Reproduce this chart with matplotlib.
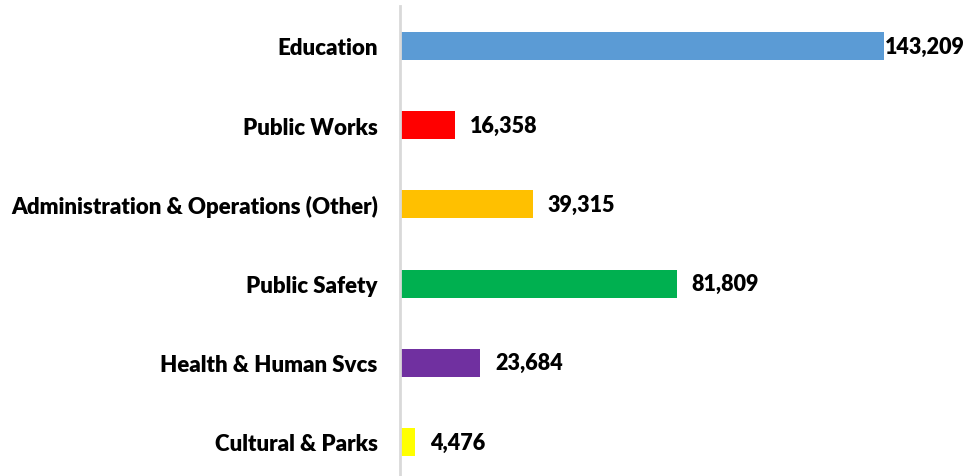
import matplotlib
matplotlib.use("Agg")
import matplotlib.pyplot as plt

categories = ["Education", "Public Works", "Administration & Operations (Other)",
              "Public Safety", "Health & Human Svcs", "Cultural & Parks"]
values = [143209, 16358, 39315, 81809, 23684, 4476]
colors = ["#5B9BD5", "#FF0000", "#FFC000", "#00B050", "#7030A0", "#FFFF00"]

plt.rcParams['font.family'] = ['Lato', 'DejaVu Sans']

W, H = 978, 477
fig = plt.figure(figsize=(W/100, H/100), dpi=100)
ax_left = 400/W
ax_top = 7.4
ax = fig.add_axes([ax_left, 0, 540.8/W, (H-ax_top)/H])

y = list(range(len(categories)))
ax.barh(y, values, height=0.355, color=colors)
ax.set_xlim(0, 160000)
ax.set_ylim(5.43, -0.5)

ax.set_yticks(y)
ax.set_yticklabels(categories, fontsize=16.0, fontweight='heavy')
ax.tick_params(axis='y', length=0, pad=16)
ax.set_xticks([])
for s in ['top', 'right', 'bottom']:
    ax.spines[s].set_visible(False)
ax.spines['left'].set_color('#D9D9D9')
ax.spines['left'].set_linewidth(2)

from matplotlib.transforms import offset_copy
for i, v in enumerate(values):
    off = 1 if v == max(values) else 15
    tr = offset_copy(ax.transData, fig=fig, x=off, y=0, units='dots')
    ax.text(v, i, f"{v:,}", transform=tr, ha='left', va='center',
            fontsize=15.5, fontweight='heavy', clip_on=False)

fig.savefig("out.png", dpi=100)
